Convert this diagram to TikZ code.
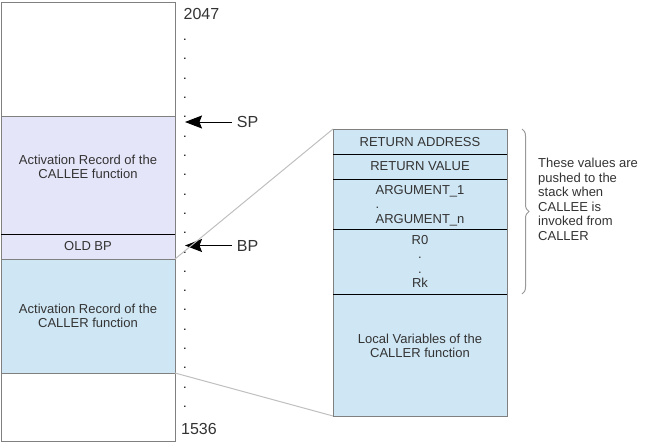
\documentclass[tikz,border=0pt]{standalone}
\usepackage{fontspec}
\setmainfont{Liberation Sans}
\usetikzlibrary{arrows.meta, positioning, calc, decorations.pathreplacing}
\definecolor{calleefill}{RGB}{229,229,250}
\definecolor{callerfill}{RGB}{207,230,244}
\definecolor{framegray}{RGB}{128,128,128}
\definecolor{txtgray}{RGB}{51,51,51}

\begin{document}
\begin{tikzpicture}[
        x=1pt, y=-1pt,
        font=\fontsize{13}{14.5}\selectfont,
        seg/.style={rectangle, draw=framegray, line width=1pt, outer sep=0pt, inner sep=0pt, minimum width=174pt, align=center, text=txtgray},
        callee/.style={seg, fill=calleefill},
        caller/.style={seg, fill=callerfill},
        divider/.style={black, line width=1pt},
        dot/.style={anchor=base, inner sep=0pt, text=black},
        addr/.style={font=\fontsize{16}{18}\selectfont, inner sep=0pt, text=txtgray},
        reg/.style={font=\fontsize{16}{18}\selectfont, inner sep=5pt, text=txtgray},
        pointer/.style={-{Stealth[length=17pt, width=13pt, inset=2.5pt]}, line width=1pt},
        zoomline/.style={gray!50, line width=1pt},
        grpbrace/.style={decorate, decoration={brace, amplitude=7pt}, gray!80, line width=1pt},
        note/.style={align=left, inner sep=0pt, text=txtgray}
    ]
    \useasboundingbox (0,0) rectangle (659,444);

    % STACK MEMORY
    \node[seg, minimum height=113.5pt] (freetop) at (88,59.25) {};
    \node[callee, minimum height=118pt, text depth=16pt, below=0pt of freetop] (calleerec) {Activation Record of the\\CALLEE function};
    \node[callee, minimum height=25pt, below=0pt of calleerec] (oldbp) {OLD BP};
    \node[caller, minimum height=114pt, below=0pt of oldbp] (callerrec) {Activation Record of the\\CALLER function};
    \node[seg, minimum height=68pt, below=0pt of callerrec] (freebot) {};
    \draw[divider] (calleerec.south west) -- (calleerec.south east);

    % --- ADDRESSES ---
    \node[addr] (hiaddr) at (201.5,14) {2047};
    \node[addr] (loaddr) at (199,429) {1536};
    \foreach \i in {0,...,19}
        \node[dot] (dot\i) at (185,40.5+19.32*\i) {.};

    % --- POINTERS ---
    \coordinate (sptip) at (185,122);
    \coordinate (bptip) at (185,245.5);
    \node[reg] (sp) at (247.5,122) {SP};
    \node[reg] (bp) at (247.5,245.5) {BP};
    \draw[pointer] (sp.west) -- (sptip);
    \draw[pointer] (bp.west) -- (bptip);

    % --- CALLER FRAME DETAIL ---
    \node[caller, minimum height=25pt, text depth=-5pt] (retaddr) at (420,141.5) {RETURN ADDRESS};
    \node[caller, minimum height=25pt, text depth=-5pt, below=0pt of retaddr] (retval) {RETURN VALUE};
    \node[caller, minimum height=50pt, text depth=-3pt, align=left, below=0pt of retval] (args) {ARGUMENT\_1\\.\\ARGUMENT\_n};
    \node[caller, minimum height=65pt, text depth=-5pt, below=0pt of args] (regs) {R0\\.\\.\\Rk};
    \node[caller, minimum height=122pt, text depth=18pt, below=0pt of regs] (locals) {Local Variables of the\\CALLER function};
    \foreach \n in {retaddr, retval, args, regs}
        \draw[divider] (\n.south west) -- (\n.south east);

    \draw[zoomline] (oldbp.south east) -- (retaddr.north west);
    \draw[zoomline] (callerrec.south east) -- (locals.south west);

    % --- BRACE ---
    \coordinate (btop) at ([xshift=15pt]retaddr.north east);
    \coordinate (bbot) at ([xshift=15pt]regs.south east);
    \draw[grpbrace] (btop) -- (bbot);
    \node[note, anchor=west] (pushnote) at ([xshift=16pt, yshift=12pt]$(btop)!0.5!(bbot)$) {These values are\\pushed to the\\stack when\\CALLEE is\\invoked from\\CALLER};

\end{tikzpicture}
\end{document}
